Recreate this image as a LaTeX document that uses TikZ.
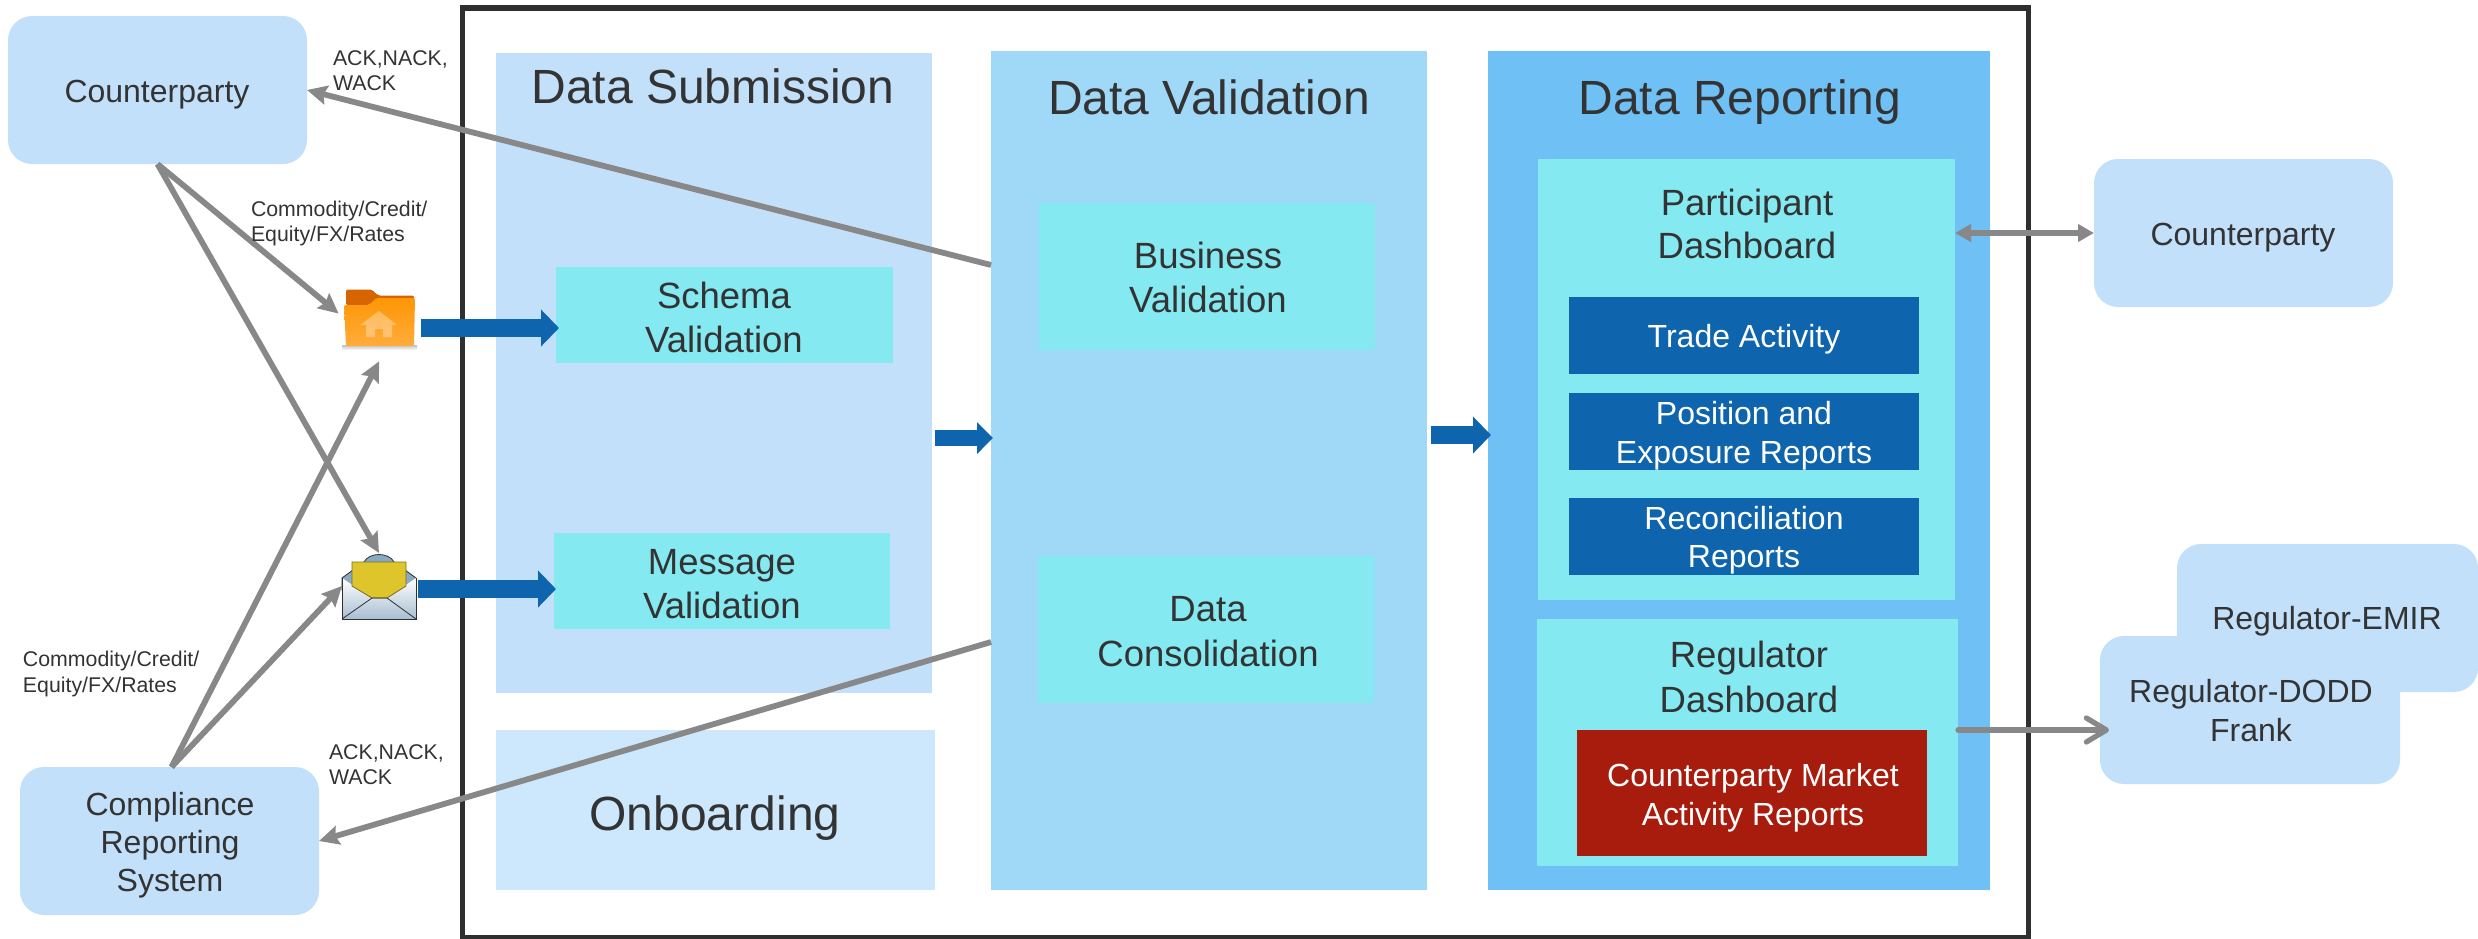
\documentclass[tikz,border=0pt]{standalone}
\usepackage{fontspec}
\setmainfont{Liberation Sans}
\usetikzlibrary{arrows.meta,calc,shadings}
\definecolor{txtc}{HTML}{333333}
\definecolor{softb}{HTML}{C3E0FA}
\definecolor{onbc}{HTML}{CDE8FC}
\definecolor{valc}{HTML}{A0D8F7}
\definecolor{repc}{HTML}{6FC0F5}
\definecolor{cyanc}{HTML}{84E9F0}
\definecolor{darkb}{HTML}{0F64AE}
\definecolor{redc}{HTML}{A71C0C}
\definecolor{grayc}{HTML}{888888}
\definecolor{framec}{HTML}{2F2F2F}
\newcommand{\boxat}[6]{%
  \pgfmathsetmacro\bw{#5-#3}\pgfmathsetmacro\bh{#6-#4}%
  \pgfmathsetmacro\cx{(#5+#3)/2}\pgfmathsetmacro\cy{(#6+#4)/2}%
  \node[#2,minimum width=\bw pt,minimum height=\bh pt] (#1) at (\cx,\cy) {};}
\tikzset{
  x=1pt,y=-1pt,
  flat/.style={rectangle,inner sep=0,outer sep=0,draw=none},
  party/.style={flat,rounded corners=24pt,fill=softb},
  inbox/.style={flat,fill=cyanc},
  blueb/.style={flat,fill=darkb},
  lbl/.style={inner sep=0,outer sep=0,anchor=base,align=center,text=txtc},
  s46/.style={font=\fontsize{48}{55}\selectfont},
  s37/.style={font=\fontsize{36.5}{44}\selectfont},
  s32/.style={font=\fontsize{32}{38.5}\selectfont},
  s21/.style={font=\fontsize{21.3}{25.3}\selectfont,align=left,anchor=base west},
  graya/.style={draw=grayc,line width=5.8pt,-{Stealth[length=20pt,width=19pt,inset=3pt]}},
  bluea/.style={draw=darkb,line width=18pt,-{Triangle[length=18pt,width=36pt]}},
  bluesm/.style={draw=darkb,line width=16pt,-{Triangle[length=16pt,width=31pt]}},
}
\begin{document}
\begin{tikzpicture}
\useasboundingbox (0,0) rectangle (2478,938);
% frame
\boxat{frame}{flat,draw=framec,line width=5.5pt}{462.5}{8}{2028.5}{937.5}
% containers
\boxat{sub}{flat,fill=softb}{496}{53}{932}{693}
\boxat{onb}{flat,fill=onbc}{496}{730}{935}{890}
\boxat{val}{flat,fill=valc}{991}{51}{1427}{890}
\boxat{rep}{flat,fill=repc}{1488}{51}{1990}{890}
% inner boxes
\boxat{schema}{inbox}{556}{267}{893}{363}
\boxat{message}{inbox}{554}{533}{890}{629}
\boxat{business}{inbox}{1039}{203}{1375}{350}
\boxat{consol}{inbox}{1038}{556}{1374}{703}
\boxat{part}{inbox}{1538}{159}{1955}{600}
\boxat{regd}{inbox}{1537}{619}{1958}{866}
\boxat{trade}{blueb}{1569}{297}{1919}{374}
\boxat{pos}{blueb}{1569}{393}{1919}{470}
\boxat{recon}{blueb}{1569}{498}{1919}{575}
\boxat{redb}{flat,fill=redc}{1577}{730}{1927}{856}
% parties
\boxat{cpl}{party}{8}{16}{307}{164}
\boxat{crs}{party}{20}{767}{319}{915}
\boxat{cpr}{party}{2094}{159}{2393}{307}
\boxat{emir}{party}{2177}{544}{2478}{692}
\boxat{dodd}{party}{2100}{636}{2400}{784}
% icon holders
\boxat{folder}{flat}{344}{289}{415}{347}
\boxat{envel}{flat}{342}{553}{416}{619}
% folder icon
\shade[top color=black!25,bottom color=white] (342,345) rectangle (417,350);
\fill[fill={rgb,255:red,214;green,100;blue,0},rounded corners=2pt] (346,305)--(346,289.5)--(372,289.5)--(378,295.5)--(414,295.5)--(414,305)--cycle;
\shade[top color={rgb,255:red,255;green,150;blue,5},bottom color={rgb,255:red,255;green,172;blue,60},rounded corners=2pt] (344,305)--(369,305)--(376,298)--(415,298)--(414,346)--(346,346)--cycle;
\fill[white,opacity=.32] (379,311)--(397,325)--(392,325)--(392,337)--(383,337)--(383,329)--(375,329)--(375,337)--(366,337)--(366,325)--(360,325)--cycle;
% envelope icon
\filldraw[fill={rgb,255:red,138;green,170;blue,195},draw=framec,line width=.8pt] (342,578)--(364,562) .. controls (369,552) and (389,552) .. (394,562)--(416,578)--(416,590)--(342,590)--cycle;
\shade[top color=white,bottom color={rgb,255:red,168;green,190;blue,210}] (342,578)--(372,598)--(387,598)--(416,578)--(416,619)--(342,619)--cycle;
\draw[framec,line width=.9pt] (342,578)--(342,619)--(416,619)--(416,578);
\filldraw[fill={rgb,255:red,222;green,197;blue,44},draw={rgb,255:red,120;green,110;blue,40},line width=.8pt] (352,562)--(406,562)--(406,586)--(387,598)--(372,598)--(352,586)--cycle;
\draw[framec,line width=.8pt] (342,619)--(372,598)--(387,598)--(416,619);
% named free ends
\coordinate (v1) at (val.west |- 0,265);
\coordinate (v2) at (val.west |- 0,642);
\coordinate (pe) at (part.east |- 0,233);
\coordinate (cw) at (cpr.west |- 0,233);
\coordinate (re) at (regd.east |- 0,730);
\coordinate (dt) at (2109,730);
\coordinate (fo) at ($(folder.east)+(6,10)$);
\coordinate (st) at ($(schema.west)+(3,13)$);
\coordinate (en) at (418,589);
\coordinate (mt) at ($(message.west)+(2,8)$);
\coordinate (a1s) at (935,438);
\coordinate (a1t) at (val.west |- 0,438);
\coordinate (a2s) at (1431,435);
\coordinate (a2t) at (rep.west |- 0,435);
\path (a1t) ++(2,0) coordinate (a1tt);
\path (a2t) ++(3,0) coordinate (a2tt);
% blue arrows
\draw[bluea] (fo) -- (st);
\draw[bluea] (en) -- (mt);
\draw[bluesm] (a1s) -- (a1tt);
\draw[bluea] (a2s) -- (a2tt);
% gray connectors
\draw[graya] (v1) -- (cpl.east);
\draw[graya] (v2) -- (crs.east);
\draw[graya,shorten >=7pt] (cpl.south) -- (folder.west);
\draw[graya] (cpl.south) -- (envel.north);
\draw[graya,shorten >=16pt] ($(crs.north)+(2,0)$) -- ($(folder.south)+(7,0)$);
\draw[graya] ($(crs.north)+(2,0)$) -- (envel.west);
\draw[draw=grayc,line width=5.3pt,{Triangle[length=16pt,width=17pt]}-{Triangle[length=16pt,width=17pt]}] (pe) -- (cw);
\draw[draw=grayc,line width=5.3pt,line cap=round,-{Straight Barb[length=20pt,width=24pt,round]}] (re) -- (dt);
% texts
\node[lbl,s46] (tsub) at (713,103) {Data Submission};
\node[lbl,s46] (tval) at (1209,114) {Data Validation};
\node[lbl,s46] (trep) at (1740,114) {Data Reporting};
\node[lbl,s46] (tonb) at (715,830) {Onboarding};
\node[lbl,s37] (tsch1) at (724,308) {Schema};
\node[lbl,s37] (tsch2) at (724,352) {Validation};
\node[lbl,s37] (tmes1) at (722,574) {Message};
\node[lbl,s37] (tmes2) at (722,618) {Validation};
\node[lbl,s37] (tbus1) at (1208,268) {Business};
\node[lbl,s37] (tbus2) at (1208,312) {Validation};
\node[lbl,s37] (tcon1) at (1208,621) {Data};
\node[lbl,s37] (tcon2) at (1208,666) {Consolidation};
\node[lbl,s37] (tpar1) at (1747,215) {Participant};
\node[lbl,s37] (tpar2) at (1747,258) {Dashboard};
\node[lbl,s37] (treg1) at (1749,667) {Regulator};
\node[lbl,s37] (treg2) at (1749,712) {Dashboard};
\node[lbl,s32,text=white] (ttra) at (1744,347) {Trade Activity};
\node[lbl,s32,text=white] (tpos1) at (1744,424) {Position and};
\node[lbl,s32,text=white] (tpos2) at (1744,463) {Exposure Reports};
\node[lbl,s32,text=white] (trec1) at (1744,529) {Reconciliation};
\node[lbl,s32,text=white] (trec2) at (1744,567) {Reports};
\node[lbl,s32,text=white] (tred1) at (1753,786) {Counterparty Market};
\node[lbl,s32,text=white] (tred2) at (1753,825) {Activity Reports};
\node[lbl,s32] (tcpl) at (157,102) {Counterparty};
\node[lbl,s32] (tcpr) at (2243,245) {Counterparty};
\node[lbl,s32] (tcrs1) at (170,815) {Compliance};
\node[lbl,s32] (tcrs2) at (170,853) {Reporting};
\node[lbl,s32] (tcrs3) at (170,891) {System};
\node[lbl,s32] (temir) at (2327,629) {Regulator-EMIR};
\node[lbl,s32] (tdod1) at (2251,702) {Regulator-DODD};
\node[lbl,s32] (tdod2) at (2251,741) {Frank};
\node[lbl,s21] (ta1) at (333,65) {ACK,NACK,};
\node[lbl,s21] (ta2) at (333,90) {WACK};
\node[lbl,s21] (tb1) at (329,759) {ACK,NACK,};
\node[lbl,s21] (tb2) at (329,784) {WACK};
\node[lbl,s21] (tc1) at (251,216) {Commodity/Credit/};
\node[lbl,s21] (tc2) at (251,241) {Equity/FX/Rates};
\node[lbl,s21] (td1) at (23,666) {Commodity/Credit/};
\node[lbl,s21] (td2) at (23,692) {Equity/FX/Rates};
\end{tikzpicture}
\end{document}
